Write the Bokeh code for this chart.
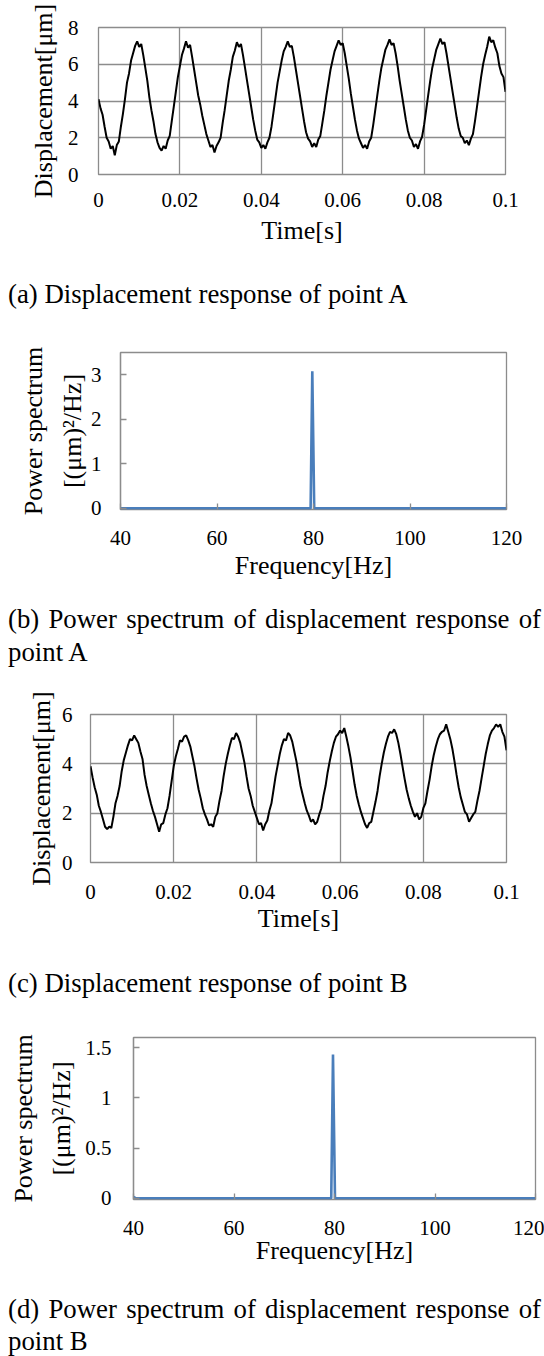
from bokeh.plotting import figure
from bokeh.models import Range1d, FixedTicker, Div
from bokeh.embed import file_html
from bokeh.resources import INLINE

FONT = "Liberation Serif"
GRID = "#8c8c8c"
BLUE = "#4a7ebb"

# ---------------- data ----------------
sample_interval = 0.0005
time_s = [round(i * sample_interval, 4) for i in range(201)]

disp_A = [
    4.10, 3.60, 3.25, 2.60, 2.00, 1.80, 1.40, 1.55, 1.05, 1.60, 1.80, 2.60, 3.30, 4.10, 5.00, 5.50, 6.20, 6.60, 7.00, 7.25, 6.95, 7.10, 6.50, 5.80, 5.10,
    4.20, 3.50, 2.90, 2.20, 1.75, 1.45, 1.30, 1.55, 1.40, 1.85, 2.10, 2.90, 3.70, 4.50, 5.30, 5.90, 6.50, 6.85, 7.25, 6.90, 7.05, 6.40, 5.70, 5.00, 4.30,
    3.80, 3.20, 2.70, 2.20, 1.85, 1.50, 1.60, 1.20, 1.55, 1.75, 2.00, 2.80, 3.50, 4.30, 5.10, 5.70, 6.40, 6.75, 7.20, 6.95, 7.10, 6.50, 5.80, 5.10, 4.40,
    3.70, 3.00, 2.40, 1.90, 1.75, 1.45, 1.60, 1.40, 1.75, 2.00, 2.60, 3.40, 4.20, 5.00, 5.60, 6.20, 6.70, 6.95, 7.25, 6.95, 7.00, 6.40, 5.70, 5.00, 4.30,
    3.60, 2.90, 2.30, 1.95, 1.80, 1.50, 1.70, 1.50, 1.90, 2.10, 2.80, 3.50, 4.30, 5.00, 5.70, 6.20, 6.70, 7.00, 7.30, 7.05, 7.15, 6.60, 5.90, 5.20, 4.40,
    3.70, 3.00, 2.40, 1.95, 1.70, 1.45, 1.60, 1.40, 1.80, 2.00, 2.70, 3.50, 4.30, 5.10, 5.80, 6.30, 6.80, 7.05, 7.35, 7.05, 7.15, 6.60, 5.90, 5.10, 4.40,
    3.70, 3.00, 2.40, 2.00, 1.85, 1.50, 1.65, 1.40, 1.80, 2.05, 2.70, 3.50, 4.30, 5.10, 5.80, 6.30, 6.80, 7.10, 7.40, 7.10, 7.20, 6.60, 5.90, 5.20, 4.50,
    3.80, 3.10, 2.50, 2.10, 2.00, 1.70, 1.85, 1.60, 1.95, 2.20, 2.90, 3.70, 4.50, 5.30, 6.00, 6.50, 6.95, 7.50, 7.20, 7.30, 6.90, 6.60, 5.90, 5.50, 5.30,
    4.50,
]

disp_B = [
    3.90, 3.45, 3.05, 2.75, 2.30, 2.05, 1.75, 1.45, 1.35, 1.45, 1.40, 1.85, 2.40, 2.70, 3.10, 3.70, 4.15, 4.45, 4.75, 5.00, 4.95, 5.15, 5.00, 4.85, 4.50,
    4.20, 3.55, 3.10, 2.75, 2.40, 2.10, 1.85, 1.55, 1.25, 1.55, 1.60, 1.95, 2.20, 2.70, 3.30, 3.90, 4.30, 4.60, 4.95, 4.90, 5.10, 5.15, 4.95, 4.70, 4.30,
    3.90, 3.40, 2.95, 2.60, 2.20, 1.95, 1.75, 1.50, 1.55, 1.45, 1.85, 2.00, 2.50, 2.90, 3.50, 4.00, 4.40, 4.75, 5.05, 5.00, 5.25, 5.10, 4.85, 4.45, 4.05,
    3.50, 3.00, 2.70, 2.30, 2.05, 1.80, 1.55, 1.60, 1.30, 1.55, 1.70, 2.10, 2.40, 2.95, 3.50, 3.95, 4.40, 4.75, 5.00, 4.95, 5.25, 5.15, 4.90, 4.50, 4.10,
    3.60, 3.10, 2.75, 2.40, 2.10, 1.90, 1.65, 1.75, 1.55, 1.65, 1.95, 2.20, 2.70, 3.10, 3.65, 4.10, 4.50, 4.85, 5.10, 5.20, 5.35, 5.25, 5.45, 5.10, 4.70,
    4.25, 3.70, 3.15, 2.70, 2.35, 2.05, 1.80, 1.55, 1.40, 1.60, 1.65, 2.05, 2.45, 2.90, 3.50, 4.00, 4.45, 4.80, 5.10, 5.30, 5.25, 5.40, 5.20, 4.85, 4.40,
    3.90, 3.40, 2.95, 2.60, 2.30, 2.05, 1.85, 2.00, 1.75, 1.85, 2.20, 2.40, 2.90, 3.35, 3.90, 4.35, 4.70, 5.00, 5.20, 5.30, 5.35, 5.60, 5.30, 5.00, 4.60,
    4.10, 3.55, 3.05, 2.65, 2.35, 2.05, 1.95, 1.65, 1.80, 1.95, 2.05, 2.50, 2.90, 3.40, 3.90, 4.40, 4.80, 5.15, 5.35, 5.45, 5.60, 5.50, 5.60, 5.30, 5.10,
    4.55,
]

freq_A = [40.0, 79.4, 79.75, 80.15, 120.0]
psd_A = [0.0, 0.0, 3.08, 0.0, 0.0]

freq_B = [40.0, 40.5, 79.35, 79.7, 80.1, 120.0]
psd_B = [0.015, 0.0, 0.0, 1.43, 0.0, 0.0]

time_ticks = [0, 0.02, 0.04, 0.06, 0.08, 0.1]
time_tick_labels = ["0", "0.02", "0.04", "0.06", "0.08", "0.1"]
freq_ticks = [40, 60, 80, 100, 120]
dispA_ticks = [0, 2, 4, 6, 8]
dispB_ticks = [0, 2, 4, 6]
psdA_ticks = [0, 1, 2, 3]
psdB_ticks = [0, 0.5, 1, 1.5]
psdB_tick_labels = ["0", "0.5", "1", "1.5"]

captions = [
    "(a) Displacement response of point A",
    "(b) Power spectrum of displacement response of point A",
    "(c) Displacement response of point B",
    "(d) Power spectrum of displacement response of point B",
]

W = 544


def base_fig(height, mbl, mbr, mbt, mbb, xr, yr):
    p = figure(width=W, height=height, x_range=Range1d(*xr), y_range=Range1d(*yr),
               output_backend="svg", toolbar_location=None, title=None,
               min_border_left=mbl, min_border_right=mbr,
               min_border_top=mbt, min_border_bottom=mbb)
    p.background_fill_color = "white"
    p.border_fill_color = "white"
    p.outline_line_color = GRID
    p.outline_line_width = 1.3
    for ax in (p.xaxis[0], p.yaxis[0]):
        ax.major_label_text_font = FONT
        ax.major_label_text_font_size = "21px"
        ax.major_label_text_color = "black"
        ax.axis_label_text_font = FONT
        ax.axis_label_text_font_size = "26px"
        ax.axis_label_text_font_style = "normal"
        ax.axis_label_text_color = "black"
        ax.minor_tick_line_color = None
    return p


def time_fig(height, mbl, mbr, mbt, mbb, ymax, yticks, y, xl_stand, xt_stand, yl_stand, yt_stand):
    p = base_fig(height, mbl, mbr, mbt, mbb, (0, 0.1), (0, ymax))
    p.xaxis.ticker = FixedTicker(ticks=time_ticks)
    p.xaxis.major_label_overrides = {t: s for t, s in zip(time_ticks, time_tick_labels)}
    p.yaxis.ticker = FixedTicker(ticks=yticks)
    for ax in (p.xaxis[0], p.yaxis[0]):
        ax.major_tick_in = 0
        ax.major_tick_out = 0
        ax.axis_line_color = None
    p.xgrid.ticker = FixedTicker(ticks=time_ticks)
    p.ygrid.ticker = FixedTicker(ticks=yticks)
    for g in (p.xgrid[0], p.ygrid[0]):
        g.grid_line_color = GRID
        g.grid_line_width = 1.3
    p.xaxis.axis_label = "Time[s]"
    p.yaxis.axis_label = "Displacement[μm]"
    p.xaxis.major_label_standoff = xl_stand
    p.xaxis.axis_label_standoff = xt_stand
    p.yaxis.major_label_standoff = yl_stand
    p.yaxis.axis_label_standoff = yt_stand
    p.line(time_s, y, line_color="black", line_width=2.0)
    return p


def psd_fig(height, mbl, mbr, mbt, mbb, ymin, ymax, yticks, ylabels, fx, fy, xl_stand, xt_stand, yl_stand, yt_stand):
    p = base_fig(height, mbl, mbr, mbt, mbb, (40, 120), (ymin, ymax))
    p.xaxis.ticker = FixedTicker(ticks=freq_ticks)
    p.yaxis.ticker = FixedTicker(ticks=yticks)
    if ylabels is not None:
        p.yaxis.major_label_overrides = {t: s for t, s in zip(yticks, ylabels)}
    for ax in (p.xaxis[0], p.yaxis[0]):
        ax.major_tick_in = 6
        ax.major_tick_out = 0
        ax.major_tick_line_color = GRID
        ax.major_tick_line_width = 1.3
        ax.axis_line_width = 1.3
    p.xaxis.axis_line_color = None
    p.yaxis.axis_line_color = GRID
    p.xgrid.grid_line_color = None
    p.ygrid.grid_line_color = None
    p.xaxis.axis_label = "Frequency[Hz]"
    p.yaxis.axis_label = "Power spectrum\n[(μm)²/Hz]"
    p.yaxis.axis_label_text_line_height = 1.33
    p.xaxis.major_label_standoff = xl_stand
    p.xaxis.axis_label_standoff = xt_stand
    p.yaxis.major_label_standoff = yl_stand
    p.yaxis.axis_label_standoff = yt_stand
    p.line(fx, fy, line_color=BLUE, line_width=2.6)
    return p


def caption(text, height, lh):
    return Div(text=text, width=W, height=height, margin=0,
               styles={"font-family": FONT, "font-size": "26.8px",
                       "line-height": f"{lh}px", "text-align": "justify",
                       "color": "black", "box-sizing": "border-box",
                       "padding-left": "8px", "padding-right": "3px"})


fig_a = time_fig(278, 98, 39, 27, 104, 8, dispA_ticks, disp_A, 18, 6, 20, 7)
cap_a = caption(captions[0], 42, 33)
fig_b = psd_fig(283, 120, 38, 32, 94, -0.025, 3.5, psdA_ticks, None, freq_A, psd_A, 21, 3, 19, 1)
cap_b = caption(captions[1], 66, 33)
fig_c = time_fig(298, 90, 38, 45, 105, 6, dispB_ticks, disp_B, 22, 2, 18, 3)
cap_c = caption(captions[2], 43, 33)
fig_d = psd_fig(283, 133, 9, 27, 94, -0.012, 1.6, psdB_ticks, psdB_tick_labels, freq_B, psd_B, 21, -2, 22, 6)
cap_d = caption(captions[3], 63, 32)

roots = [fig_a, cap_a, fig_b, cap_b, fig_c, cap_c, fig_d, cap_d]

with open("out.html", "w") as f:
    f.write(file_html(roots, INLINE))
